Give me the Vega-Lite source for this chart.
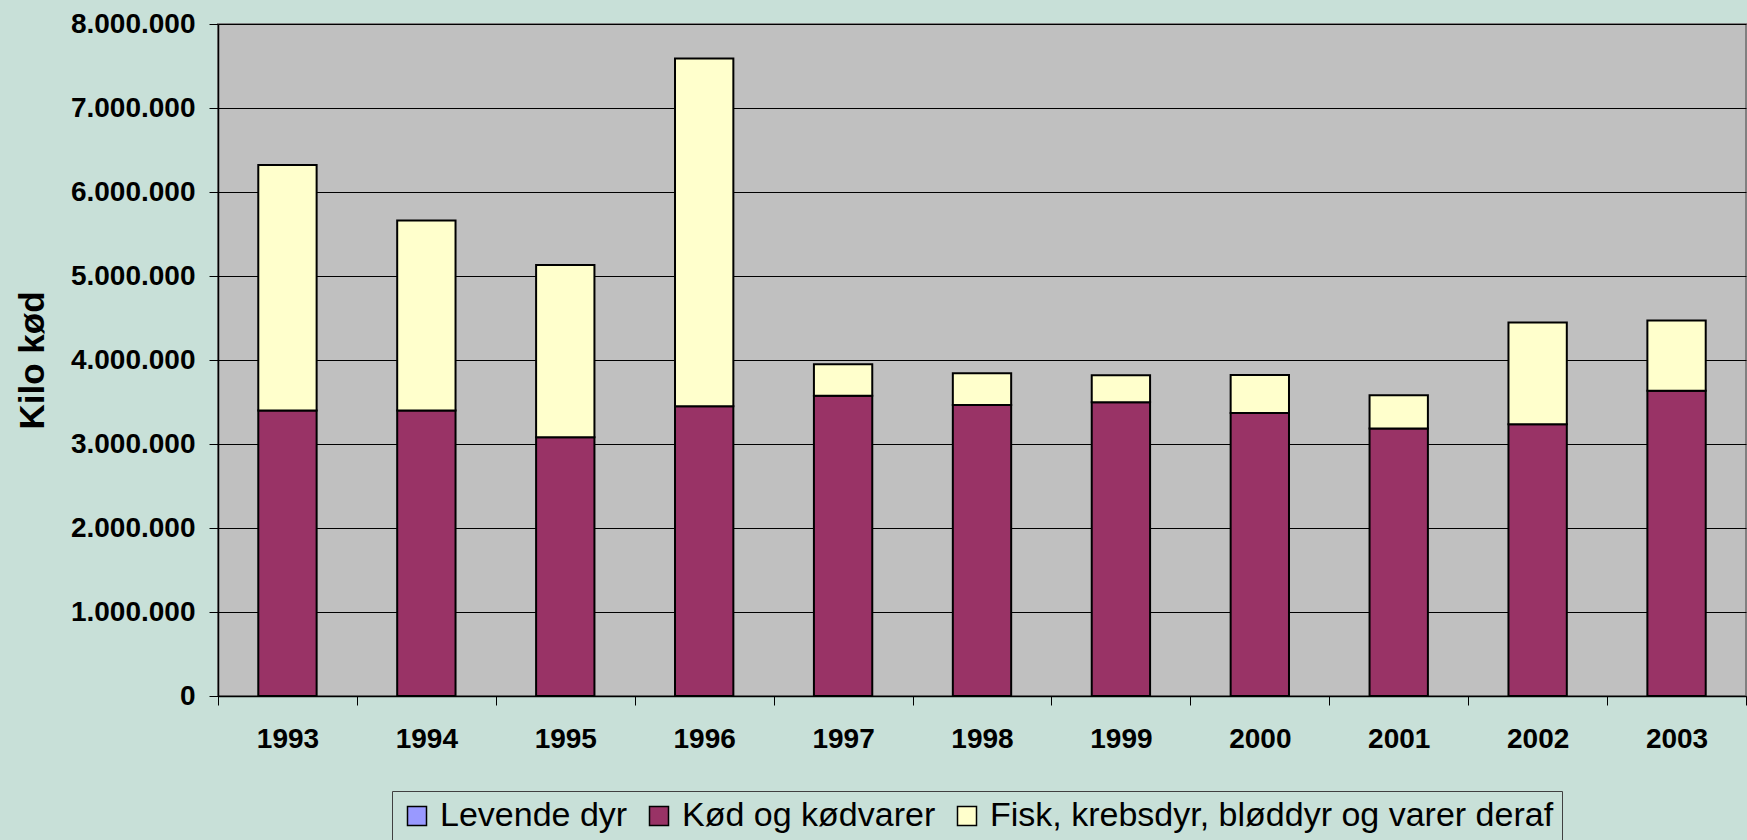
{
  "$schema": "https://vega.github.io/schema/vega-lite/v6.json",
  "width": 1528,
  "height": 672,
  "autosize": {"type": "none"},
  "padding": {"left": 218, "top": 24, "right": 1, "bottom": 144},
  "background": "#C8E0D8",
  "config": {
    "locale": {"number": {"decimal": ",", "thousands": ".", "grouping": [3], "currency": ["", " kr"]}},
    "view": {"fill": "#C0C0C0", "stroke": "#808080", "strokeWidth": 2},
    "font": "Liberation Sans"
  },
  "data": {
    "values": [
      {"year": "1993", "serie": "Kød og kødvarer", "kilo": 3400000},
      {"year": "1993", "serie": "Fisk, krebsdyr, bløddyr og varer deraf", "kilo": 2920000},
      {"year": "1994", "serie": "Kød og kødvarer", "kilo": 3400000},
      {"year": "1994", "serie": "Fisk, krebsdyr, bløddyr og varer deraf", "kilo": 2260000},
      {"year": "1995", "serie": "Kød og kødvarer", "kilo": 3080000},
      {"year": "1995", "serie": "Fisk, krebsdyr, bløddyr og varer deraf", "kilo": 2050000},
      {"year": "1996", "serie": "Kød og kødvarer", "kilo": 3450000},
      {"year": "1996", "serie": "Fisk, krebsdyr, bløddyr og varer deraf", "kilo": 4140000},
      {"year": "1997", "serie": "Kød og kødvarer", "kilo": 3575000},
      {"year": "1997", "serie": "Fisk, krebsdyr, bløddyr og varer deraf", "kilo": 375000},
      {"year": "1998", "serie": "Kød og kødvarer", "kilo": 3465000},
      {"year": "1998", "serie": "Fisk, krebsdyr, bløddyr og varer deraf", "kilo": 377000},
      {"year": "1999", "serie": "Kød og kødvarer", "kilo": 3497000},
      {"year": "1999", "serie": "Fisk, krebsdyr, bløddyr og varer deraf", "kilo": 321000},
      {"year": "2000", "serie": "Kød og kødvarer", "kilo": 3370000},
      {"year": "2000", "serie": "Fisk, krebsdyr, bløddyr og varer deraf", "kilo": 450000},
      {"year": "2001", "serie": "Kød og kødvarer", "kilo": 3185000},
      {"year": "2001", "serie": "Fisk, krebsdyr, bløddyr og varer deraf", "kilo": 395000},
      {"year": "2002", "serie": "Kød og kødvarer", "kilo": 3235000},
      {"year": "2002", "serie": "Fisk, krebsdyr, bløddyr og varer deraf", "kilo": 1210000},
      {"year": "2003", "serie": "Kød og kødvarer", "kilo": 3635000},
      {"year": "2003", "serie": "Fisk, krebsdyr, bløddyr og varer deraf", "kilo": 835000}
    ]
  },
  "mark": {"type": "bar", "width": {"band": 0.42}, "stroke": "#000000", "strokeWidth": 2},
  "encoding": {
    "x": {
      "field": "year", "type": "nominal",
      "scale": {"paddingInner": 0, "paddingOuter": 0},
      "axis": {
        "title": null, "labelAngle": 0, "grid": false,
        "domainColor": "#000000", "domainWidth": 1.5,
        "tickColor": "#000000", "tickSize": 9, "tickBand": "extent",
        "labelFont": "Liberation Sans", "labelFontWeight": "bold", "labelFontSize": 28,
        "labelColor": "#000000", "labelPadding": 20
      }
    },
    "y": {
      "field": "kilo", "type": "quantitative", "stack": "zero",
      "scale": {"domain": [0, 8000000], "nice": false},
      "axis": {
        "title": "Kilo kød", "values": [0, 1000000, 2000000, 3000000, 4000000, 5000000, 6000000, 7000000, 8000000],
        "format": ",d",
        "grid": true, "gridColor": "#000000", "gridWidth": 1,
        "domainColor": "#000000", "domainWidth": 1.5,
        "tickColor": "#000000", "tickSize": 9,
        "labelFont": "Liberation Sans", "labelFontWeight": "bold", "labelFontSize": 28,
        "labelColor": "#000000", "labelPadding": 14,
        "titleFont": "Liberation Sans", "titleFontWeight": "bold", "titleFontSize": 35,
        "titleColor": "#000000", "titlePadding": 20
      }
    },
    "color": {
      "field": "serie", "type": "nominal",
      "scale": {
        "domain": ["Levende dyr", "Kød og kødvarer", "Fisk, krebsdyr, bløddyr og varer deraf"],
        "range": ["#9999FF", "#993366", "#FFFFCC"]
      },
      "legend": {
        "title": null, "orient": "none", "direction": "horizontal",
        "legendX": 174, "legendY": 767,
        "strokeColor": "#404040", "fillColor": "#C8E0D8", "padding": 8,
        "symbolType": "square", "symbolSize": 361, "symbolStrokeColor": "#000000", "symbolStrokeWidth": 1.5,
        "symbolOpacity": 1,
        "labelFont": "Liberation Sans", "labelFontSize": 34, "labelColor": "#000000",
        "labelOffset": 6, "columnPadding": 14, "labelLimit": 800
      }
    },
    "order": {"field": "serie", "sort": "descending"}
  }
}
